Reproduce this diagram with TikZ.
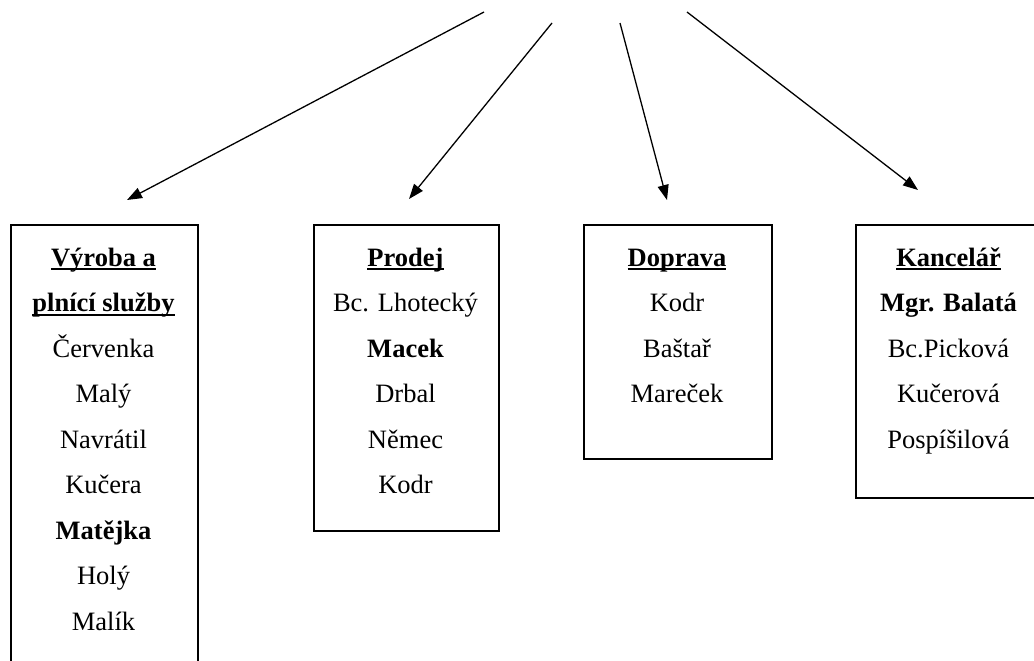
\documentclass[tikz,border=0pt]{standalone}
\usepackage{fontspec}
\setmainfont{Liberation Serif}
\usetikzlibrary{arrows.meta}
\newlength\ulw
\newcommand\myul[1]{\settowidth\ulw{#1}\makebox[0pt][l]{\rule[-4pt]{\ulw}{2pt}}#1}
\newcommand\topstrut{\rule{0pt}{26pt}}
\begin{document}
\begin{tikzpicture}[x=1pt,y=-1pt,
  box/.style={draw, line width=1.8pt, inner sep=0pt, anchor=north west},
  names/.style={anchor=north, inner sep=0pt, align=center, font=\fontsize{26.5}{45.5}\selectfont},
  link/.style={line width=1.3pt, -{Triangle[length=15pt,width=11pt]}}]
\clip (0,0) rectangle (1034,661);
\fill[white] (0,0) rectangle (1034,661);

% boxes
\node[box, minimum width=187pt, minimum height=470pt] (b1) at (10,224) {};
\node[box, minimum width=185pt, minimum height=306pt] (b2) at (313,224) {};
\node[box, minimum width=188pt, minimum height=234pt] (b3) at (583,224) {};
\node[box, minimum width=188pt, minimum height=273pt] (b4) at (855,224) {};

% texts
\node[names] (t1) at (103.5,240) {\topstrut\textbf{\myul{Výroba a}}\\ \textbf{\myul{plnící služby}}\\ Červenka\\ Malý\\ Navrátil\\ Kučera\\ \textbf{Matějka}\\ Holý\\ Malík};
\node[names] (t2) at (405.5,240) {\topstrut\textbf{\myul{Prodej}}\\ Bc. Lhotecký\\ \textbf{Macek}\\ Drbal\\ Němec\\ Kodr};
\node[names] (t3) at (677,240) {\topstrut\textbf{\myul{Doprava}}\\ Kodr\\ Baštař\\ Mareček};
\node[names] (t4) at (948.5,240) {\topstrut\textbf{\myul{Kancelář}}\\ \textbf{Mgr. Balatá}\\ Bc.Picková\\ Kučerová\\ Pospíšilová};

% arrow ends
\coordinate (s1) at (484,12);
\coordinate (s2) at (552,23);
\coordinate (s3) at (620,23);
\coordinate (s4) at (687,12);
\coordinate (e1) at (127,200);
\coordinate (e2) at (409,199);
\coordinate (e3) at (667,200);
\coordinate (e4) at (918,190);

\draw[link] (s1) -- (e1);
\draw[link] (s2) -- (e2);
\draw[link] (s3) -- (e3);
\draw[link] (s4) -- (e4);
\end{tikzpicture}
\end{document}
